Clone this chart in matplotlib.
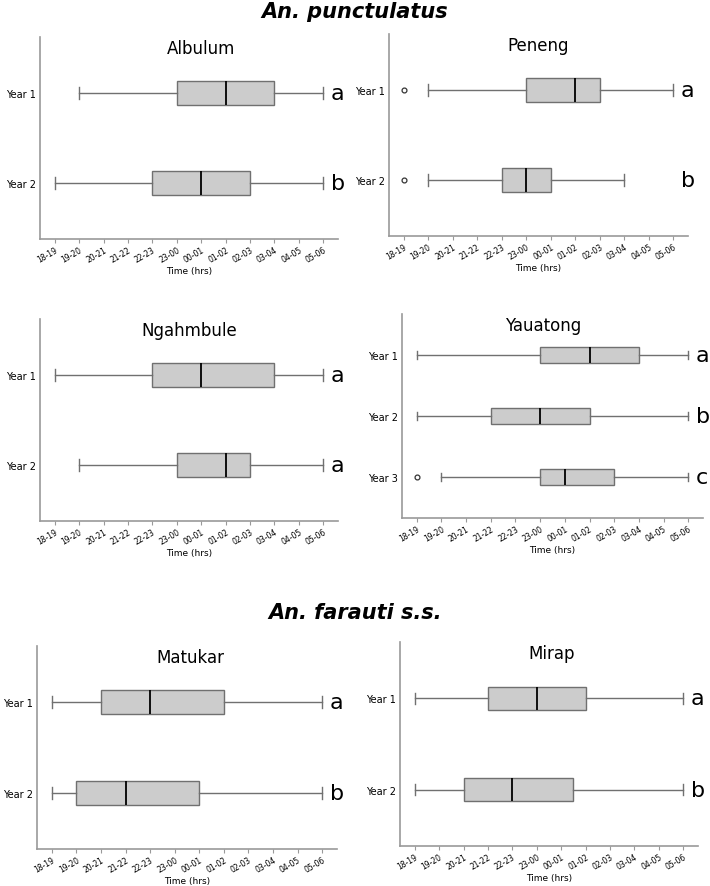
import matplotlib
matplotlib.use('Agg')
import matplotlib.pyplot as plt

# time bins (x categories)
time_bins = ['18-19', '19-20', '20-21', '21-22', '22-23', '23-00',
             '00-01', '01-02', '02-03', '03-04', '04-05', '05-06']

# box stats per site and year: [whisker low, q1, median, q3, whisker high] as bin index
albulum = [[1, 5, 7, 9, 11], [0, 4, 6, 8, 11]]
albulum_out = [[], []]
albulum_letters = ['a', 'b']

peneng = [[1, 5, 7, 8, 11], [1, 4, 5, 6, 9]]
peneng_out = [[0], [0]]
peneng_letters = ['a', 'b']

ngahmbule = [[0, 4, 6, 9, 11], [1, 5, 7, 8, 11]]
ngahmbule_out = [[], []]
ngahmbule_letters = ['a', 'a']

yauatong = [[0, 5, 7, 9, 11], [0, 3, 5, 7, 11], [1, 5, 6, 8, 11]]
yauatong_out = [[], [], [0]]
yauatong_letters = ['a', 'b', 'c']

matukar = [[0, 2, 4, 7, 11], [0, 1, 3, 6, 11]]
matukar_out = [[], []]
matukar_letters = ['a', 'b']

mirap = [[0, 3, 5, 7, 11], [0, 2, 4, 6.5, 11]]
mirap_out = [[], []]
mirap_letters = ['a', 'b']

W, H = 710, 887
fig = plt.figure(figsize=(W / 100, H / 100), dpi=100)

# panel layout in pixels: (name, stats, outliers, letters, x0, x1, ytop, ybottom, title x)
panels = [
    ('Albulum', albulum, albulum_out, albulum_letters, 40, 338, 38, 240, 0.54),
    ('Peneng', peneng, peneng_out, peneng_letters, 389, 688, 35, 237, 0.5),
    ('Ngahmbule', ngahmbule, ngahmbule_out, ngahmbule_letters, 40, 338, 320, 522, 0.5),
    ('Yauatong', yauatong, yauatong_out, yauatong_letters, 402, 703, 315, 519, 0.47),
    ('Matukar', matukar, matukar_out, matukar_letters, 37, 337, 647, 850, 0.51),
    ('Mirap', mirap, mirap_out, mirap_letters, 400, 698, 643, 847, 0.51),
]

grey = '#707070'
for name, stats, outs, letters, x0, x1, yt, yb, tx in panels:
    ax = fig.add_axes([x0 / W, 1 - yb / H, (x1 - x0) / W, (yb - yt) / H])
    bxp_stats = []
    for i, s in enumerate(stats):
        bxp_stats.append({'whislo': s[0], 'q1': s[1], 'med': s[2], 'q3': s[3],
                          'whishi': s[4], 'fliers': outs[i], 'label': 'Year %d' % (i + 1)})
    n = len(stats)
    pos = list(range(1, n + 1))
    ax.bxp(bxp_stats, positions=pos, vert=False, widths=0.26, patch_artist=True,
           boxprops=dict(facecolor='#cccccc', edgecolor=grey, linewidth=1.0),
           whiskerprops=dict(color=grey, linewidth=1.0),
           capprops=dict(color=grey, linewidth=1.0),
           medianprops=dict(color='black', linewidth=1.3),
           flierprops=dict(marker='o', markersize=3.5, markerfacecolor='white',
                           markeredgecolor='#333333', markeredgewidth=0.9))
    for i, lt in enumerate(letters):
        ax.text(11.3, pos[i], lt, fontsize=16, ha='left', va='center')
    pad = 0.62 if n == 2 else 0.67
    ax.set_ylim(n + pad, 1 - pad)
    ax.set_xlim(-0.6, 11.6)
    ax.set_xticks(range(len(time_bins)))
    ax.set_xticklabels(time_bins, rotation=30, ha='right', fontsize=5.5,
                       rotation_mode='anchor')
    ax.tick_params(axis='x', length=3, color='#999999', pad=1.5)
    ax.tick_params(axis='y', length=0, pad=3, labelsize=7)
    ax.set_xlabel('Time (hrs)', fontsize=6.5, labelpad=1)
    for sp in ['top', 'right']:
        ax.spines[sp].set_visible(False)
    for sp in ['left', 'bottom']:
        ax.spines[sp].set_color('#999999')
        ax.spines[sp].set_linewidth(1.2)
    ax.text(tx, 0.99, name, transform=ax.transAxes, fontsize=12, ha='center', va='top')

fig.text(0.5, 1 - 12 / H, 'An. punctulatus', fontsize=15, fontweight='bold',
         style='italic', ha='center', va='center')
fig.text(0.5, 1 - 613 / H, 'An. farauti s.s.', fontsize=15, fontweight='bold',
         style='italic', ha='center', va='center')

fig.savefig('out.png', dpi=100)
